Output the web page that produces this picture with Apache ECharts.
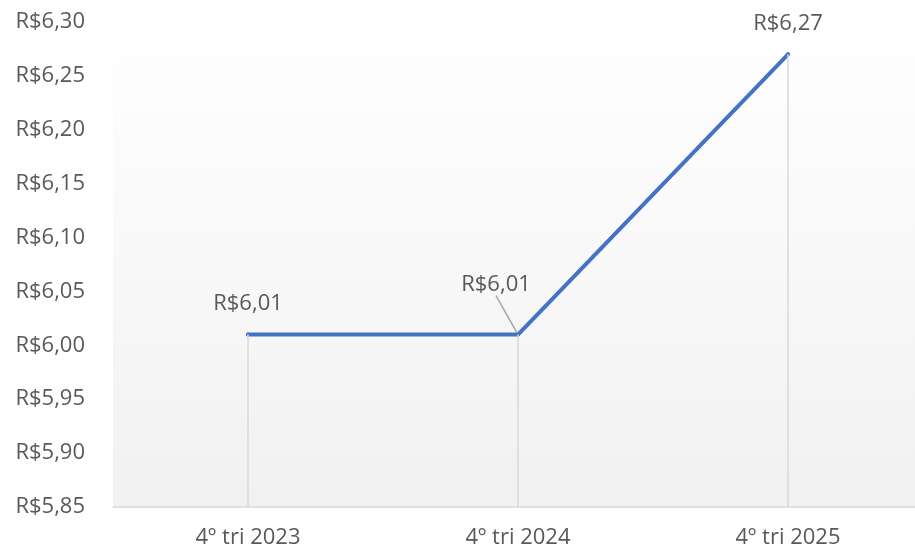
<!DOCTYPE html>
<html>
<head>
<meta charset="utf-8">
<script src="https://cdn.jsdelivr.net/npm/echarts@6/dist/echarts.min.js"></script>
<style>
  html, body { margin: 0; padding: 0; background: #fff; }
  #main { width: 915px; height: 546px; }
</style>
</head>
<body>
<div id="main"></div>
<script>
let categories = ['4º tri 2023', '4º tri 2024', '4º tri 2025'];
let values = [6.01, 6.01, 6.27];
let yMin = 5.85, yMax = 6.30, yStep = 0.05;

function brl(v) {
  return 'R$' + v.toFixed(2).replace('.', ',');
}

// linhas verticais do ponto até o eixo
let dropLines = values.map(function (v, i) {
  return [{ coord: [i, v] }, { coord: [i, yMin] }];
});

let seriesData = values.map(function (v, i) {
  return { value: v, labelLine: { show: i === 1 } };
});

option1 = {
  animation: false,
  textStyle: { fontFamily: 'Open Sans' },
  grid: {
    left: 113, width: 810, top: 22, bottom: 39,
    outerBoundsMode: 'none',
    containLabel: false,
    show: true,
    borderWidth: 0,
    backgroundColor: {
      type: 'linear', x: 0, y: 0, x2: 0, y2: 1,
      colorStops: [{ offset: 0, color: '#ffffff' }, { offset: 1, color: '#f1f1f1' }]
    }
  },
  xAxis: {
    type: 'category',
    data: categories,
    boundaryGap: true,
    axisLine: { lineStyle: { color: '#d9d9d9', width: 1.5 } },
    axisTick: { show: false },
    axisLabel: { color: '#595959', fontSize: 22, margin: 20 },
    splitLine: { show: false }
  },
  yAxis: {
    type: 'value',
    min: yMin,
    max: yMax,
    interval: yStep,
    axisLine: { show: false },
    axisTick: { show: false },
    splitLine: { show: false },
    axisLabel: {
      color: '#595959', fontSize: 22, margin: 28,
      formatter: function (v) { return brl(v); }
    }
  },
  series: [
    {
      type: 'line',
      data: seriesData,
      symbol: 'circle',
      symbolSize: 4,
      showSymbol: true,
      itemStyle: { color: '#4472c4' },
      lineStyle: { color: '#4472c4', width: 4, cap: 'round' },
      label: {
        show: true,
        position: 'top',
        distance: 18,
        color: '#595959',
        fontSize: 22,
        formatter: function (p) { return brl(p.value); }
      },
      labelLine: { lineStyle: { color: '#a6a6a6', width: 1.5 } },
      labelLayout: function (p) {
        if (p.dataIndex === 1) return { dx: -22, dy: -19 };
        return {};
      },
      markLine: {
        silent: true,
        symbol: 'none',
        label: { show: false },
        lineStyle: { color: '#d9d9d9', width: 1.5, type: 'solid' },
        data: dropLines
      },
      z: 3
    }
  ]
};

var myChart = echarts.init(document.getElementById('main'));
myChart.setOption(option1);
</script>
</body>
</html>
